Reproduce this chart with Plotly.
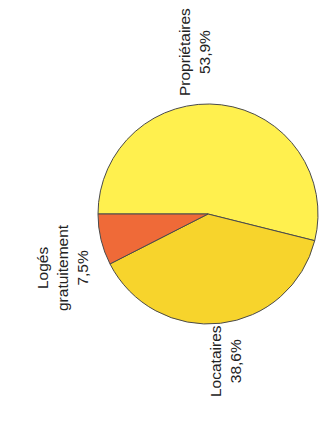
import plotly.graph_objects as go

# Répartition des ménages selon le statut d'occupation
categories = ["Propriétaires", "Locataires", "Logés<br>gratuitement"]
shares = [53.9, 38.6, 7.5]
colors = ["#FFF04E", "#F7D42C", "#EF6A38"]

W, H = 326, 428

fig = go.Figure(
    go.Pie(
        labels=categories,
        values=shares,
        sort=False,
        direction="clockwise",
        rotation=270,
        textinfo="none",
        hoverinfo="label+percent",
        marker=dict(colors=colors, line=dict(color="#4a4a4a", width=1)),
        domain=dict(x=[98 / W, 318 / W], y=[(H - 324) / H, (H - 104) / H]),
        showlegend=False,
    )
)

def pct(v):
    return f"{v:.1f}".replace(".", ",") + "%"

# Rotated labels placed around the pie (px coordinates of each label centre)
label_pos = [(194, 52), (225, 361), (62, 268)]
for name, v, (px, py) in zip(categories, shares, label_pos):
    fig.add_annotation(
        x=px / W, y=1 - py / H, xref="paper", yref="paper",
        text=f"{name}<br>{pct(v)}",
        textangle=-90, showarrow=False,
        xanchor="center", yanchor="middle",
        font=dict(family="Liberation Sans, Arial, sans-serif", size=15.5, color="#222222"),
    )

fig.update_layout(
    width=W, height=H,
    margin=dict(l=0, r=0, t=0, b=0),
    paper_bgcolor="white",
    plot_bgcolor="white",
)

fig.write_html("out.html")
